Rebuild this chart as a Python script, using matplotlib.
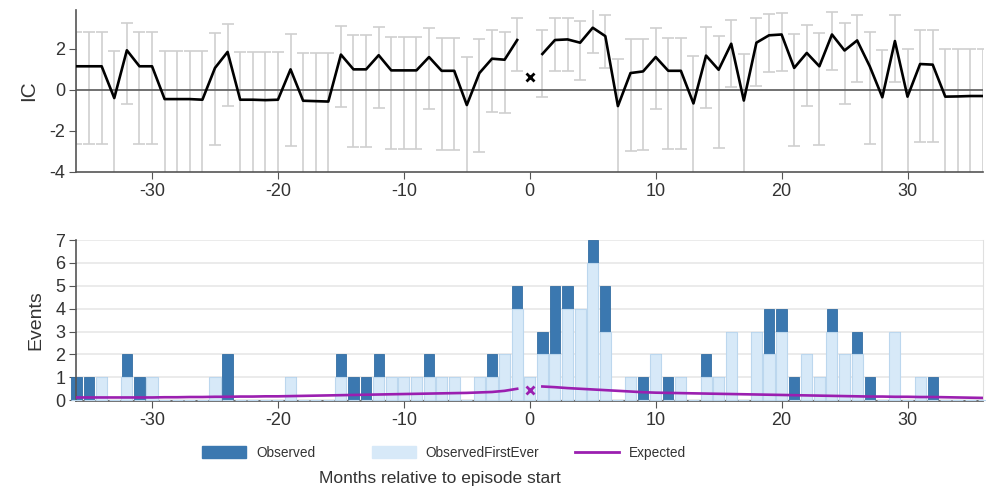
import numpy as np
import matplotlib
matplotlib.use("Agg")
import matplotlib.pyplot as plt
from matplotlib.patches import Patch
from matplotlib.lines import Line2D

plt.rcParams['font.family'] = ['Liberation Sans', 'DejaVu Sans']
plt.rcParams['axes.unicode_minus'] = False

#==========================
# dados (meses -36 .. 36)
#==========================
months = list(range(-36, 37))

ic = [1.15, 1.15, 1.15, -0.4, 1.93, 1.15, 1.15, -0.45, -0.45, -0.45, -0.48, 1.07,
      1.85, -0.48, -0.48, -0.5, -0.48, 1.0, -0.53, -0.55, -0.57, 1.72, 1.0, 1.0,
      1.69, 0.95, 0.95, 0.95, 1.6, 0.93, 0.93, -0.74, 0.82, 1.52, 1.47, 2.43,
      0.62,
      1.75, 2.43, 2.46, 2.3, 3.03, 2.62, -0.79, 0.82, 0.9, 1.6, 0.93, 0.93,
      -0.66, 1.67, 0.98, 2.25, -0.52, 2.3, 2.66, 2.7, 1.07, 1.8, 1.15, 2.7,
      1.92, 2.41, 1.15, -0.36, 2.38, -0.33, 1.26, 1.23, -0.33, -0.32, -0.3, -0.3]

ic_upper = [2.8, 2.83, 2.83, 1.9, 3.28, 2.8, 2.8, 1.9, 1.9, 1.9, 1.9, 2.75,
            3.2, 1.85, 1.85, 1.85, 1.85, 2.7, 1.8, 1.8, 1.8, 3.1, 2.67, 2.67,
            3.07, 2.6, 2.6, 2.6, 3.0, 2.55, 2.55, 1.6, 2.46, 2.92, 2.82, 3.48,
            np.nan,
            2.92, 3.48, 3.5, 3.36, 3.93, 3.66, 1.5, 2.46, 2.5, 3.0, 2.55, 2.55,
            1.67, 3.07, 2.62, 3.41, 1.77, 3.48, 3.69, 3.74, 2.74, 3.16, 2.79, 3.8,
            3.25, 3.64, 2.84, 1.92, 3.64, 1.97, 2.9, 2.9, 2.0, 2.0, 2.0, 2.0]

ic_lower = [-2.62, -2.65, -2.65, -4.6, -0.69, -2.65, -2.65, -4.6, -4.6, -4.6, -4.6, -2.7,
            -0.79, -4.6, -4.6, -4.6, -4.6, -2.75, -4.6, -4.6, -4.6, -0.85, -2.8, -2.8,
            -0.9, -2.87, -2.87, -2.87, -0.95, -2.92, -2.92, -4.6, -3.03, -1.07, -1.15, 0.9,
            np.nan,
            -0.36, 0.9, 0.93, 0.49, 1.8, 1.07, -4.6, -3.0, -2.95, -0.95, -2.9, -2.9,
            -4.6, -0.9, -2.84, 0.16, -4.6, 0.2, 0.85, 0.93, -2.75, -0.79, -2.67, 0.98,
            -0.69, 0.36, -2.66, -4.6, 0.36, -4.6, -2.54, -2.54, -4.6, -4.6, -4.6, -4.6]

observed = [1, 1, 1, 0, 2, 1, 1, 0, 0, 0, 0, 1,
            2, 0, 0, 0, 0, 1, 0, 0, 0, 2, 1, 1,
            2, 1, 1, 1, 2, 1, 1, 0, 1, 2, 2, 5,
            1,
            3, 5, 5, 4, 7, 5, 0, 1, 1, 2, 1, 1,
            0, 2, 1, 3, 0, 3, 4, 4, 1, 2, 1, 4,
            2, 3, 1, 0, 3, 0, 1, 1, 0, 0, 0, 0]

first_ever = [0, 0, 1, 0, 1, 0, 1, 0, 0, 0, 0, 1,
              0, 0, 0, 0, 0, 1, 0, 0, 0, 1, 0, 0,
              1, 1, 1, 1, 1, 1, 1, 0, 1, 1, 2, 4,
              1,
              2, 2, 4, 4, 6, 3, 0, 1, 0, 2, 0, 1,
              0, 1, 1, 3, 0, 3, 2, 3, 0, 2, 1, 3,
              2, 2, 0, 0, 3, 0, 1, 0, 0, 0, 0, 0]

expected = [0.12, 0.12, 0.12, 0.12, 0.12, 0.12, 0.12, 0.13, 0.13, 0.14, 0.14, 0.15,
            0.15, 0.16, 0.16, 0.17, 0.17, 0.18, 0.19, 0.2, 0.21, 0.22, 0.23, 0.24,
            0.25, 0.26, 0.27, 0.28, 0.29, 0.3, 0.31, 0.32, 0.34, 0.36, 0.41, 0.5,
            0.45,
            0.6, 0.57, 0.53, 0.5, 0.47, 0.44, 0.41, 0.38, 0.35, 0.33, 0.32, 0.31,
            0.3, 0.29, 0.28, 0.27, 0.26, 0.25, 0.24, 0.23, 0.22, 0.21, 0.2, 0.19,
            0.18, 0.17, 0.16, 0.16, 0.15, 0.15, 0.14, 0.14, 0.13, 0.12, 0.11, 0.1]

x_ticks = [-30, -20, -10, 0, 10, 20, 30]
legend_labels = ['Observed', 'ObservedFirstEver', 'Expected']

DARK = '#3b78b0'
LIGHT = '#d7e9f8'
PURPLE = '#9b1fb0'
GREY_BAR = '#cfcfcf'
TXT = '#333333'

#==========================
# estilo comum dos eixos
#==========================
def styleAxis(ax):
    ax.set_xlim(-36, 36)
    ax.set_xticks(x_ticks)
    ax.tick_params(axis='both', labelsize=13, colors='#555555', labelcolor=TXT,
                   direction='out', length=5, pad=3)
    for s in ['left', 'bottom']:
        ax.spines[s].set_color('#555555')
        ax.spines[s].set_linewidth(1.2)
    ax.spines['top'].set_visible(False)


x = np.array(months)
ic_arr = np.array(ic, dtype=float)
up = np.array(ic_upper, dtype=float)
lo = np.array(ic_lower, dtype=float)
zero_mask = x == 0

fig = plt.figure(figsize=(9.87, 4.94), dpi=100)

#==========================
# painel de cima - IC
#==========================
ax1 = fig.add_axes([0.0775, 0.652, 0.9185, 0.328])
valid = ~np.isnan(up)
ax1.errorbar(x[valid], ic_arr[valid],
             yerr=[ic_arr[valid] - lo[valid], up[valid] - ic_arr[valid]],
             fmt='none', ecolor=GREY_BAR, elinewidth=1.2, capsize=4, capthick=1.2, zorder=1)
ax1.axhline(0, color='#666666', lw=1.3, zorder=2)
line_ic = np.where(zero_mask, np.nan, ic_arr)
ax1.plot(x, line_ic, color='black', lw=1.9, zorder=3)
ax1.plot(x[zero_mask], ic_arr[zero_mask], 'x', color='black', ms=6, mew=2, zorder=3)
ax1.set_ylim(-4, 3.9)
ax1.set_yticks([-4, -2, 0, 2])
ax1.set_ylabel('IC', fontsize=15, color=TXT, labelpad=8)
ax1.spines['right'].set_visible(False)
styleAxis(ax1)

#==========================
# painel de baixo - eventos
#==========================
ax2 = fig.add_axes([0.0775, 0.188, 0.9185, 0.326])
ax2.set_axisbelow(True)
ax2.grid(axis='y', color='#e8e8e8', lw=1.2)
ax2.bar(x, observed, width=0.82, color=DARK, edgecolor='#336ea3', lw=0.6,
        clip_on=False, zorder=2)
ax2.bar(x, first_ever, width=0.88, color=LIGHT, edgecolor='#bcd7ee', lw=0.8,
        clip_on=False, zorder=3)
exp_arr = np.array(expected, dtype=float)
ax2.plot(x, np.where(zero_mask, np.nan, exp_arr), color=PURPLE, lw=1.9, zorder=4)
ax2.plot(x[zero_mask], exp_arr[zero_mask], 'x', color=PURPLE, ms=6, mew=2, zorder=4)
ax2.set_ylim(-0.04, 7)
ax2.set_yticks(range(0, 8))
ax2.set_ylabel('Events', fontsize=14, color=TXT, labelpad=8)
ax2.spines['right'].set_color('#e0e0e0')
styleAxis(ax2)

#==========================
# legenda (uma entrada por vez, posicoes do original) e titulo do eixo x
#==========================
handles = [Patch(facecolor=DARK, edgecolor=DARK),
           Patch(facecolor=LIGHT, edgecolor=LIGHT),
           Line2D([0], [0], color=PURPLE, lw=2)]
legend_x = [0.205, 0.377, 0.583]
for h, lab, lx in zip(handles, legend_labels, legend_x):
    fig.legend([h], [lab], loc='center left', bbox_to_anchor=(lx, 0.083),
               frameon=False, fontsize=9.8, handlelength=3.2, handleheight=1.0,
               handletextpad=0.75, borderaxespad=0, borderpad=0, labelcolor=TXT)
fig.text(0.446, 0.032, 'Months relative to episode start', ha='center', va='center',
         fontsize=12.5, color=TXT)

fig.savefig('out.png', dpi=100)
